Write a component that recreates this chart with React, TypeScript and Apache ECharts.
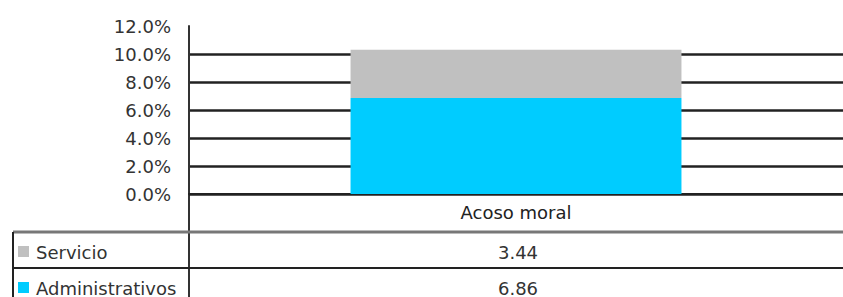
import React, { useEffect, useRef } from "react";
import * as echarts from "echarts";

const categories = ["Acoso moral"];
const administrativos = [6.86];
const servicio = [3.44];
const tableRows = [
  { name: "Servicio", values: servicio, color: "#C0C0C0" },
  { name: "Administrativos", values: administrativos, color: "#00CCFF" },
];
const yMin = 0;
const yMax = 12;
const yInterval = 2;

const W = 843;
const H = 297;
const GRID_LEFT = 189;
const GRID_TOP = 26;
const AXIS_Y = 194;
const FONT = "DejaVu Sans, sans-serif";
const FS = 18;

export default function App() {
  const ref = useRef<HTMLDivElement>(null);
  useEffect(() => {
    if (!ref.current) return;
    const chart = echarts.init(ref.current, undefined, { renderer: "svg" });
    const colCenter = GRID_LEFT + (W - GRID_LEFT) / 2 + 2;
    const rowYs = [252, 288];
    const graphics: any[] = [
      { type: "line", shape: { x1: GRID_LEFT, y1: AXIS_Y, x2: GRID_LEFT, y2: H }, style: { stroke: "#333", lineWidth: 2 } },
      { type: "line", shape: { x1: 13, y1: 232, x2: W, y2: 232 }, style: { stroke: "#777", lineWidth: 3 } },
      { type: "line", shape: { x1: 13, y1: 268, x2: W, y2: 268 }, style: { stroke: "#222", lineWidth: 2 } },
      { type: "line", shape: { x1: 13, y1: 232, x2: 13, y2: H }, style: { stroke: "#222", lineWidth: 2 } },
    ];
    tableRows.forEach((r, i) => {
      const cy = rowYs[i];
      graphics.push({ type: "rect", shape: { x: 18, y: cy - 6, width: 11, height: 11 }, style: { fill: r.color } });
      graphics.push({
        type: "text",
        style: { x: 36, y: cy, text: r.name, font: `${FS}px ${FONT}`, fill: "#333", textAlign: "left", textVerticalAlign: "middle" },
      });
      graphics.push({
        type: "text",
        style: { x: colCenter, y: cy, text: r.values[0].toFixed(2), font: `${FS}px ${FONT}`, fill: "#333", textAlign: "center", textVerticalAlign: "middle" },
      });
    });
    chart.setOption({
      animation: false,
      grid: { left: GRID_LEFT, right: 0, top: GRID_TOP, bottom: H - AXIS_Y },
      xAxis: {
        type: "category",
        data: categories,
        axisLine: { show: true, lineStyle: { color: "#222", width: 2 } },
        axisTick: { show: false },
        axisLabel: { margin: 9, fontSize: FS, fontFamily: FONT, color: "#222" },
      },
      yAxis: {
        type: "value",
        min: yMin,
        max: yMax,
        interval: yInterval,
        axisLine: { show: true, lineStyle: { color: "#333", width: 2 } },
        axisTick: { show: false },
        axisLabel: {
          margin: 18,
          fontSize: FS,
          fontFamily: FONT,
          color: "#333",
          formatter: (v: number) => v.toFixed(1) + "%",
        },
        splitLine: { show: true, showMaxLine: false, lineStyle: { color: "#222", width: 2.5 } },
      },
      series: [
        { name: "Administrativos", type: "bar", stack: "a", data: administrativos, barWidth: "50.6%", itemStyle: { color: "#00CCFF" } },
        { name: "Servicio", type: "bar", stack: "a", data: servicio, barWidth: "50.6%", itemStyle: { color: "#C0C0C0" } },
      ],
      graphic: graphics,
    });
    return () => chart.dispose();
  }, []);
  return <div ref={ref} style={{ position: "fixed", left: 0, top: 0, width: W, height: H, background: "#fff" }} />;
}
